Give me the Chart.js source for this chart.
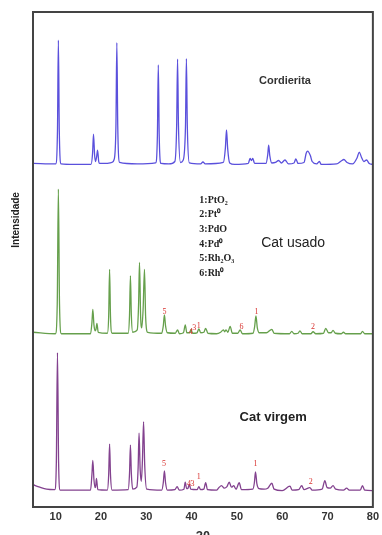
<!DOCTYPE html>
<html>
<head>
<meta charset="utf-8">
<script src="https://cdn.jsdelivr.net/npm/chart.js@4"></script>
<style>
  html, body { margin: 0; padding: 0; background: #fff; }
  #wrap { width: 382px; height: 535px; }
</style>
</head>
<body>
<div id="wrap"><canvas id="xrd-chart"></canvas></div>
<script>
// 2θ tick labels
const xTicks = [10, 20, 30, 40, 50, 60, 70, 80];

// stacked patterns, [2θ, intensity incl. offset]
const cordierita = [
    [5, 69.4], [10.0, 69.3], [10.4, 76], [10.6, 94.3], [10.8, 76], [11.2, 69.3],
    [14, 69.2], [17.8, 69.2], [18.15, 71.5], [18.35, 75.3], [18.6, 71], [18.8, 69.8],
    [19.05, 70.8], [19.25, 72.1], [19.5, 69.8], [19.7, 69.4], [21, 69.4], [22.4, 69.6],
    [22.9, 70.2], [23.3, 77], [23.5, 93.8], [23.7, 77], [24.1, 69.6], [28, 69.3],
    [32.05, 69.5], [32.45, 75], [32.65, 89.3], [32.85, 75], [33.25, 69.4], [35, 69.3],
    [36.3, 69.8], [36.7, 77], [36.9, 90.5], [37.1, 77], [37.55, 69.6], [38.1, 70],
    [38.65, 77], [38.85, 90.6], [39.05, 77], [39.5, 69.5], [42.0, 69.3], [42.5, 69.7],
    [43, 69.3], [47.0, 69.6], [47.45, 72.5], [47.7, 76.2], [47.95, 72.5], [48.4, 69.5],
    [49.5, 69.2], [52.5, 69.4], [52.9, 70.4], [53.2, 70], [53.5, 70.4], [53.9, 69.4],
    [56.4, 69.4], [56.8, 71.2], [57.0, 73.1], [57.25, 71], [57.7, 69.5], [58.5, 69.6],
    [59.2, 70.0], [59.8, 69.5], [60.6, 70.1], [61.4, 69.3], [62.6, 69.5], [63.0, 70.3],
    [63.5, 69.4], [64.8, 69.6], [65.3, 71.5], [65.6, 71.9], [66.2, 71.0], [66.6, 69.8],
    [67.6, 69.3], [68.2, 69.8], [68.6, 69.2], [72, 69.3], [73.0, 69.9], [73.6, 70.2],
    [74.3, 69.6], [75.5, 69.3], [76.5, 70.5], [77.0, 71.7], [77.5, 70.6], [78.0, 69.8],
    [78.6, 70.1], [79.2, 69.4], [80, 69.2]
];

const catUsado = [
    [5, 35.3], [9.95, 35.0], [10.35, 41], [10.6, 64.2], [10.85, 41], [11.25, 35.0],
    [17.7, 35.0], [18.0, 37.2], [18.2, 39.9], [18.45, 36.8], [18.7, 35.6], [18.9, 35.9],
    [19.1, 37.1], [19.4, 35.3], [21.4, 35.1], [21.7, 38.5], [21.9, 48.0], [22.1, 38.5],
    [22.45, 35.1], [26.0, 35.1], [26.3, 38.8], [26.5, 46.7], [26.7, 38.8], [27.0, 35.3],
    [28.0, 35.8], [28.3, 41], [28.5, 49.4], [28.75, 38.5], [29.0, 36.2], [29.3, 40],
    [29.6, 48.0], [29.85, 38.5], [30.3, 35.3], [33.4, 35.1], [33.75, 36.6], [34.0, 38.8],
    [34.25, 36.6], [34.65, 35.2], [36.4, 35.1], [36.9, 35.8], [37.3, 35.0], [38.2, 35.2],
    [38.6, 36.8], [38.95, 35.2], [39.6, 35.2], [39.9, 35.9], [40.2, 35.1], [41.2, 35.2],
    [41.6, 36.0], [42.0, 35.2], [42.7, 35.3], [43.1, 36.1], [43.6, 35.1], [45.5, 35.0],
    [46.4, 35.3], [47.0, 35.8], [47.3, 35.4], [47.6, 35.8], [48.0, 35.3], [48.5, 36.5],
    [49.0, 35.1], [50.2, 35.1], [50.7, 35.8], [51.2, 35.0], [53.55, 35.1], [53.9, 36.4],
    [54.2, 38.6], [54.5, 36.2], [54.95, 35.2], [56.5, 35.2], [57.7, 35.9], [58.2, 35.1],
    [61.6, 35.0], [62.1, 35.5], [62.6, 35.0], [63.5, 35.1], [63.9, 35.6], [64.4, 35.0],
    [66.3, 35.0], [66.8, 35.4], [67.4, 35.0], [69.1, 35.1], [69.6, 36.1], [70.2, 35.2],
    [70.8, 35.2], [71.2, 35.7], [71.7, 35.1], [73.0, 35.0], [73.5, 35.3], [74.0, 35.0],
    [77.3, 35.0], [77.7, 35.5], [78.2, 35.0], [80, 35.0]
];

const catVirgem = [
    [5, 4.5], [6.5, 4.0], [8, 3.6], [9.8, 3.5], [10.15, 9], [10.4, 31.2], [10.65, 9],
    [11.0, 3.4], [17.7, 3.4], [18.0, 6.5], [18.2, 9.4], [18.45, 5.5], [18.7, 3.9],
    [18.85, 4.3], [19.0, 5.8], [19.3, 3.5], [21.4, 3.4], [21.7, 6.5], [21.9, 12.7],
    [22.1, 6.5], [22.45, 3.4], [26.0, 3.5], [26.3, 6.8], [26.5, 12.5], [26.7, 6.8],
    [27.0, 3.6], [27.9, 4.0], [28.2, 8], [28.4, 14.9], [28.65, 7.5], [28.9, 5.2],
    [29.15, 9.5], [29.4, 17.2], [29.65, 8.5], [30.1, 3.6], [33.4, 3.4], [33.75, 4.9],
    [34.0, 7.3], [34.25, 4.9], [34.65, 3.4], [36.3, 3.5], [36.8, 4.1], [37.3, 3.4],
    [38.3, 3.6], [38.6, 5.0], [38.9, 3.7], [39.2, 3.8], [39.5, 4.6], [39.8, 3.6],
    [41.2, 3.5], [41.6, 4.1], [42.0, 3.5], [42.7, 3.6], [43.1, 4.9], [43.5, 3.5],
    [45.5, 3.4], [46.0, 3.9], [46.6, 4.3], [47.2, 3.8], [47.8, 4.1], [48.3, 5.0],
    [48.8, 4.0], [49.3, 4.3], [49.8, 3.6], [50.5, 4.9], [51.0, 3.5], [53.5, 3.6],
    [53.85, 4.9], [54.1, 7.1], [54.4, 4.7], [54.85, 3.7], [56.0, 3.6], [56.8, 3.8],
    [57.7, 4.8], [58.2, 3.6], [60.0, 3.3], [61.7, 4.2], [62.2, 3.4], [63.6, 3.5],
    [64.3, 4.3], [64.8, 3.5], [66.1, 3.9], [66.6, 3.4], [68.8, 3.6], [69.4, 5.3],
    [69.9, 3.9], [70.6, 3.8], [71.2, 4.3], [71.8, 3.6], [73.5, 3.4], [74.2, 3.8],
    [74.8, 3.4], [77.2, 3.4], [77.7, 4.3], [78.2, 3.4], [80, 3.3]
];

// phase marks: [text, 2θ, y]
const usadoMarks = [['5', 34.0, 39.5], ['4', 39.8, 35.4], ['3', 40.6, 36.2], ['1', 41.6, 36.6],
    ['6', 51.0, 36.3], ['1', 54.3, 39.5], ['2', 66.8, 36.4]];
const virgemMarks = [['5', 33.9, 8.8], ['4', 39.4, 4.6], ['3', 40.2, 4.6], ['1', 41.6, 6.1],
    ['1', 54.1, 8.8], ['2', 66.3, 5.1]];

const phaseKey = ['1:PtO₂', '2:Pt⁰', '3:PdO', '4:Pd⁰', '5:Rh₂O₃', '6:Rh⁰'];

const toPoints = arr => arr.map(p => ({ x: p[0], y: p[1] }));

const annotations = {
    id: 'annotations',
    afterDraw(chart) {
        const { ctx, chartArea: a, scales: { x, y } } = chart;
        ctx.save();

        // frame
        ctx.strokeStyle = '#444';
        ctx.lineWidth = 2;
        ctx.strokeRect(a.left, a.top, a.right - a.left, a.bottom - a.top);

        ctx.textAlign = 'center';
        ctx.textBaseline = 'middle';

        ctx.fillStyle = '#333';
        ctx.font = 'bold 11px "Liberation Sans", Arial, sans-serif';
        ctx.fillText('Cordierita', x.getPixelForValue(60.6), y.getPixelForValue(86.1));
        ctx.fillStyle = '#222';
        ctx.font = '14px "Liberation Sans", Arial, sans-serif';
        ctx.fillText('Cat usado', x.getPixelForValue(62.4), y.getPixelForValue(53.4));
        ctx.font = 'bold 13px "Liberation Sans", Arial, sans-serif';
        ctx.fillText('Cat virgem', x.getPixelForValue(58.0), y.getPixelForValue(18.1));

        // phase marks
        ctx.fillStyle = '#d8322f';
        ctx.font = '8px "Liberation Serif", serif';
        usadoMarks.concat(virgemMarks).forEach(m => {
            ctx.fillText(m[0], x.getPixelForValue(m[1]), y.getPixelForValue(m[2]));
        });

        // phase key
        ctx.fillStyle = '#222';
        ctx.textAlign = 'left';
        ctx.font = 'bold 10px "Liberation Serif", serif';
        phaseKey.forEach((t, i) => {
            ctx.fillText(t, x.getPixelForValue(41.7), y.getPixelForValue(62.0 - i * 2.97));
        });

        // y label
        ctx.translate(16, y.getPixelForValue(58.0));
        ctx.rotate(-Math.PI / 2);
        ctx.textAlign = 'center';
        ctx.fillStyle = '#222';
        ctx.font = 'bold 10px "Liberation Sans", Arial, sans-serif';
        ctx.fillText('Intensidade', 0, 0);
        ctx.restore();
    }
};

const line = (data, color) => ({
    data: toPoints(data),
    borderColor: color,
    borderWidth: 1.3,
    pointRadius: 0,
    cubicInterpolationMode: 'monotone',
    fill: false
});

new Chart(document.getElementById('xrd-chart'), {
    type: 'line',
    data: {
        datasets: [
            line(cordierita, '#5a50dc'),
            line(catUsado, '#66a04c'),
            line(catVirgem, '#83428f')
        ]
    },
    options: {
        responsive: true,
        maintainAspectRatio: false,
        animation: false,
        layout: { padding: { left: 33, right: 9, top: 12, bottom: 0 } },
        plugins: {
            legend: { display: false },
            tooltip: { enabled: false }
        },
        scales: {
            x: {
                type: 'linear',
                min: 5,
                max: 80,
                grid: { display: false, drawTicks: false },
                border: { display: false },
                afterBuildTicks: scale => { scale.ticks = xTicks.map(v => ({ value: v })); },
                afterFit: scale => { scale.height = 28; },
                ticks: {
                    padding: 3,
                    color: '#333',
                    font: { family: '"Liberation Sans", Arial, sans-serif', size: 11, weight: 'bold' }
                },
                title: {
                    display: true,
                    text: '2θ',
                    color: '#333',
                    padding: { top: 0, bottom: -9 },
                    font: { family: '"Liberation Sans", Arial, sans-serif', size: 13, weight: 'bold' }
                }
            },
            y: {
                display: false,
                min: 0,
                max: 100
            }
        }
    },
    plugins: [annotations]
});
</script>
</body>
</html>
